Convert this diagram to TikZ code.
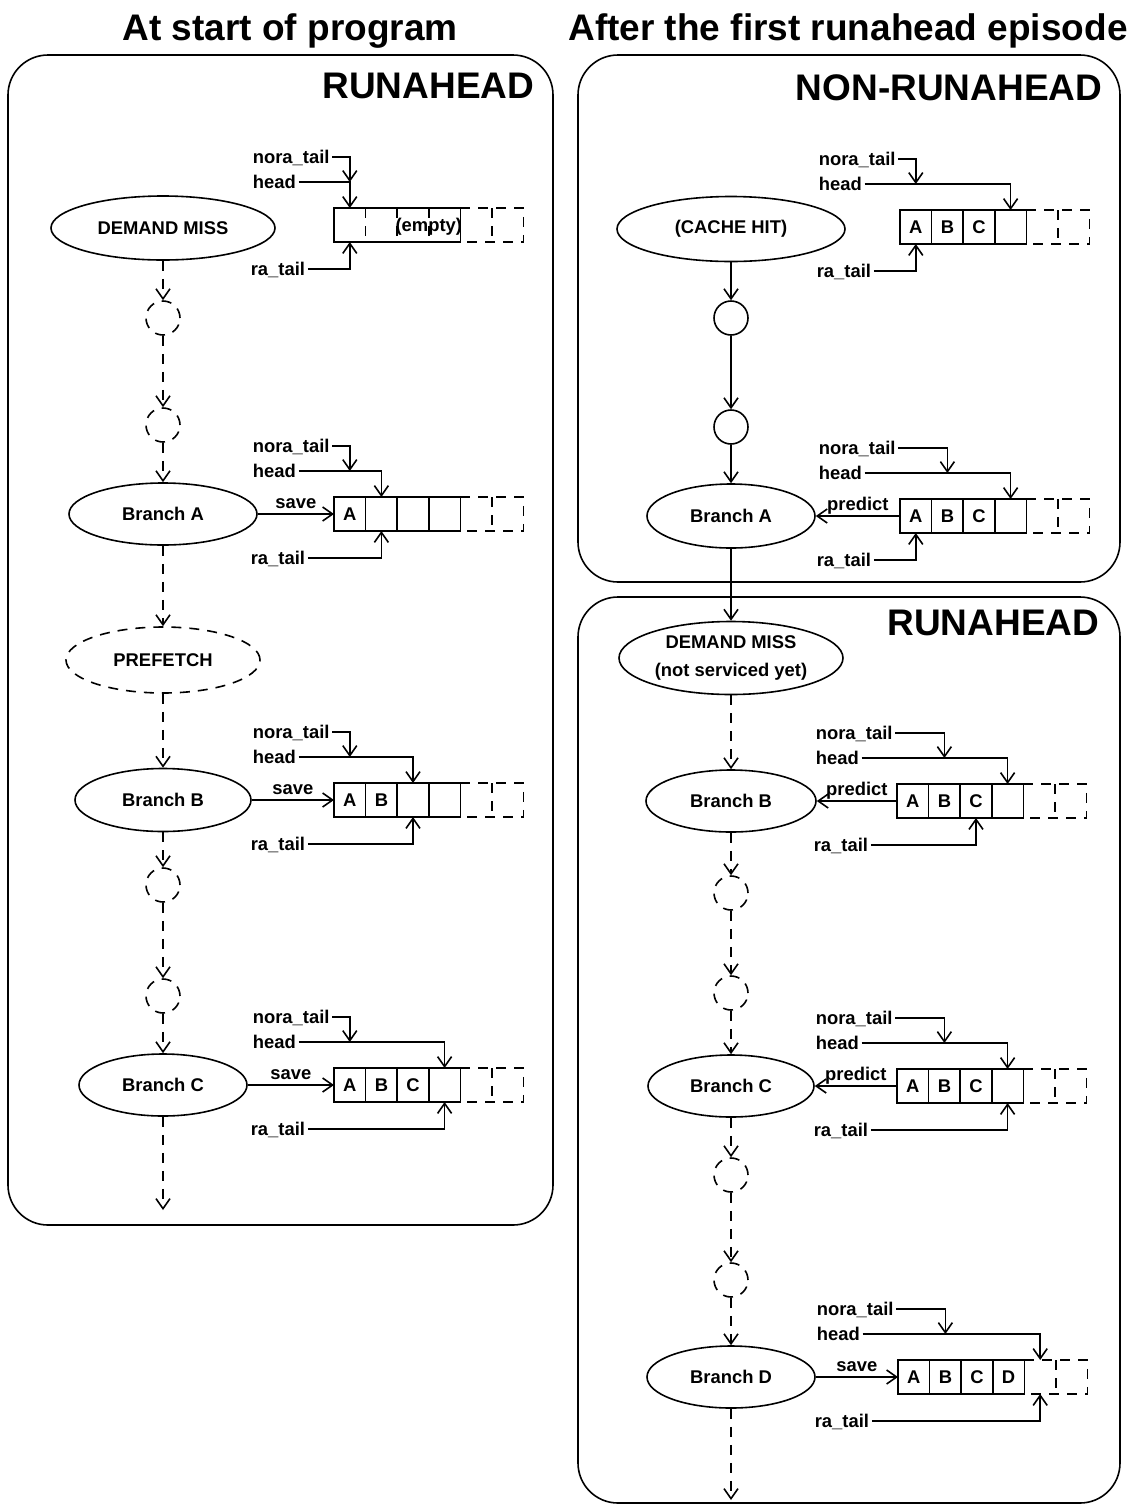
\documentclass[tikz,border=0pt]{standalone}
\usepackage{fontspec}
\setmainfont{Liberation Sans}
\usetikzlibrary{shapes.geometric,arrows.meta}

\tikzset{
  lbl/.style={font=\fontsize{9.2}{11}\selectfont\bfseries, inner sep=1pt, text height=6.6pt, text depth=0pt},
  big/.style={font=\fontsize{18.5}{22}\selectfont\bfseries, inner sep=0pt, text height=13.3pt, text depth=0pt},
  state/.style={ellipse, draw, inner sep=0pt, align=center, font=\fontsize{9.2}{14}\selectfont\bfseries},
  hop/.style={circle, draw, minimum size=17pt, inner sep=0pt},
  cell/.style={minimum width=15.8pt, minimum height=17pt, inner sep=0pt, outer sep=0pt, font=\fontsize{9.2}{11}\selectfont\bfseries},
  dashy/.style={dash pattern=on 5pt off 4pt},
  ptr/.style={-{Straight Barb[length=5pt,width=7pt]}},
  flow/.style={ptr, dashy},
  frame/.style={rounded corners=20pt},
}

% queue of six slots: #1 name, #2 left edge, #3 four entries, #4 style of inner walls
\newcommand{\fifo}[4]{%
  \begin{scope}[shift={(#2)}]
    \foreach \e [count=\i] in {#3,{},{}}
      \node[cell] (#1-\i) at (\i*31.6-15.8,0) {\e};
  \end{scope}
  \draw (#1-1.north west) rectangle (#1-4.south east);
  \foreach \i in {1,2,3}
    \draw[#4] (#1-\i.north east) -- (#1-\i.south east);
  \draw[dashy] (#1-4.north east) -- (#1-6.north east) -- (#1-6.south east) -- (#1-4.south east)
    (#1-5.north east) -- (#1-5.south east);
}

% pointers: #1 queue, #2 nora_tail slot, #3 head slot, #4 ra_tail slot
\newcommand{\ptrs}[4]{%
  \node[lbl, anchor=west] (#1-nt) at ([xshift=-42pt, yshift=34pt]#1-1.west) {nora\_tail};
  \node[lbl, anchor=west] (#1-hd) at ([xshift=-42pt, yshift=21.5pt]#1-1.west) {head};
  \node[lbl, anchor=west] (#1-rt) at ([xshift=-43pt, yshift=-22pt]#1-1.west) {ra\_tail};
  \coordinate (#1-nj) at (#1-#2 |- #1-hd);
  \draw[ptr] (#1-nt.east) -| (#1-nj);
  \draw[ptr] (#1-hd.east) -| (#1-#3.north);
  \draw[ptr] (#1-rt.east) -| (#1-#4.south);
}

\begin{document}
\begin{tikzpicture}[x=0.5pt, y=-0.5pt, line width=0.8pt]
  \useasboundingbox (0,0) rectangle (1141,1506);

  % titles and frames
  \node[big] (tleft) at (290,27) {At start of program};
  \node[big] (tright) at (848,27) {After the first runahead episode};
  \draw[frame] (8,55) rectangle (553,1225);
  \draw[frame] (578,55) rectangle (1120,582);
  \draw[frame] (578,597) rectangle (1120,1503);
  \node[big, anchor=east] (lrun) at (535,85) {RUNAHEAD};
  \node[big, anchor=east] (rnon) at (1103,87) {NON-RUNAHEAD};
  \node[big, anchor=east] (rrun) at (1100,622) {RUNAHEAD};

  % left column
  \node[state, minimum width=112pt, minimum height=32pt] (ldm) at (163,228) {DEMAND MISS};
  \node[hop, dashy] (l1) at (163,318) {};
  \node[hop, dashy] (l2) at (163,425) {};
  \node[state, minimum width=94pt, minimum height=31pt] (la) at (163,514) {Branch A};
  \node[state, dashy, minimum width=97pt, minimum height=33pt] (lpf) at (163,660) {PREFETCH};
  \node[state, minimum width=88pt, minimum height=31.5pt] (lb) at (163,800) {Branch B};
  \node[hop, dashy] (l3) at (163,885) {};
  \node[hop, dashy] (l4) at (163,996) {};
  \node[state, minimum width=84pt, minimum height=31pt] (lc) at (163,1085) {Branch C};
  \coordinate (lend) at (163,1210);

  \draw[flow] (ldm) -- (l1);
  \draw[flow] (l1) -- (l2);
  \draw[flow] (l2) -- (la);
  \draw[flow] (la) -- (lpf);
  \draw[flow] (lpf) -- (lb);
  \draw[flow] (lb) -- (l3);
  \draw[flow] (l3) -- (l4);
  \draw[flow] (l4) -- (lc);
  \draw[flow] (lc) -- (lend);

  \fifo{lq0}{334,225}{{},{},{},{}}{dashy}
  \node[lbl] (lq0-e) at (lq0-3.east) {(empty)};
  \ptrs{lq0}{1}{1}{1}
  \fifo{lqa}{334,514}{A,{},{},{}}{solid}
  \ptrs{lqa}{1}{2}{2}
  \draw[ptr] (la.east) -- (lqa-1.west) node[lbl, midway, above, inner sep=2.5pt] (lsa) {save};
  \fifo{lqb}{334,800}{A,B,{},{}}{solid}
  \ptrs{lqb}{1}{3}{3}
  \draw[ptr] (lb.east) -- (lqb-1.west) node[lbl, midway, above, inner sep=2.5pt] (lsb) {save};
  \fifo{lqc}{334,1085}{A,B,C,{}}{solid}
  \ptrs{lqc}{1}{4}{4}
  \draw[ptr] (lc.east) -- (lqc-1.west) node[lbl, midway, above, inner sep=2.5pt] (lsc) {save};

  % right column
  \node[state, minimum width=114pt, minimum height=32.5pt] (rch) at (731,229) {(CACHE HIT)};
  \node[hop] (r1) at (731,318) {};
  \node[hop] (r2) at (731,427) {};
  \node[state, minimum width=84pt, minimum height=32pt] (ra) at (731,516) {Branch A};
  \node[state, minimum width=112pt, minimum height=36.5pt] (rdm) at (731,658) {DEMAND MISS\\(not serviced yet)};
  \node[state, minimum width=85pt, minimum height=31pt] (rb) at (731,801) {Branch B};
  \node[hop, dashy] (r3) at (731,893) {};
  \node[hop, dashy] (r4) at (731,993) {};
  \node[state, minimum width=83pt, minimum height=31pt] (rc) at (731,1086) {Branch C};
  \node[hop, dashy] (r5) at (731,1175) {};
  \node[hop, dashy] (r6) at (731,1280) {};
  \node[state, minimum width=84pt, minimum height=31pt] (rd) at (731,1377) {Branch D};
  \coordinate (rend) at (731,1500);

  \draw[ptr] (rch) -- (r1);
  \draw[ptr] (r1) -- (r2);
  \draw[ptr] (r2) -- (ra);
  \draw[ptr] (ra) -- (rdm);
  \draw[flow] (rdm) -- (rb);
  \draw[flow] (rb) -- (r3);
  \draw[flow] (r3) -- (r4);
  \draw[flow] (r4) -- (rc);
  \draw[flow] (rc) -- (r5);
  \draw[flow] (r5) -- (r6);
  \draw[flow] (r6) -- (rd);
  \draw[flow] (rd) -- (rend);

  \fifo{rq0}{900,227}{A,B,C,{}}{solid}
  \ptrs{rq0}{1}{4}{1}
  \fifo{rqa}{900,516}{A,B,C,{}}{solid}
  \ptrs{rqa}{2}{4}{1}
  \draw[ptr] (rqa-1.west) -- (ra.east) node[lbl, midway, above, inner sep=2.5pt] (rpa) {predict};
  \fifo{rqb}{897,801}{A,B,C,{}}{solid}
  \ptrs{rqb}{2}{4}{3}
  \draw[ptr] (rqb-1.west) -- (rb.east) node[lbl, midway, above, inner sep=2.5pt] (rpb) {predict};
  \fifo{rqc}{897,1086}{A,B,C,{}}{solid}
  \ptrs{rqc}{2}{4}{4}
  \draw[ptr] (rqc-1.west) -- (rc.east) node[lbl, midway, above, inner sep=2.5pt] (rpc) {predict};
  \fifo{rqd}{898,1377}{A,B,C,D}{solid}
  \ptrs{rqd}{2}{5}{5}
  \draw[ptr] (rd.east) -- (rqd-1.west) node[lbl, midway, above, inner sep=2.5pt] (rsd) {save};
\end{tikzpicture}
\end{document}
